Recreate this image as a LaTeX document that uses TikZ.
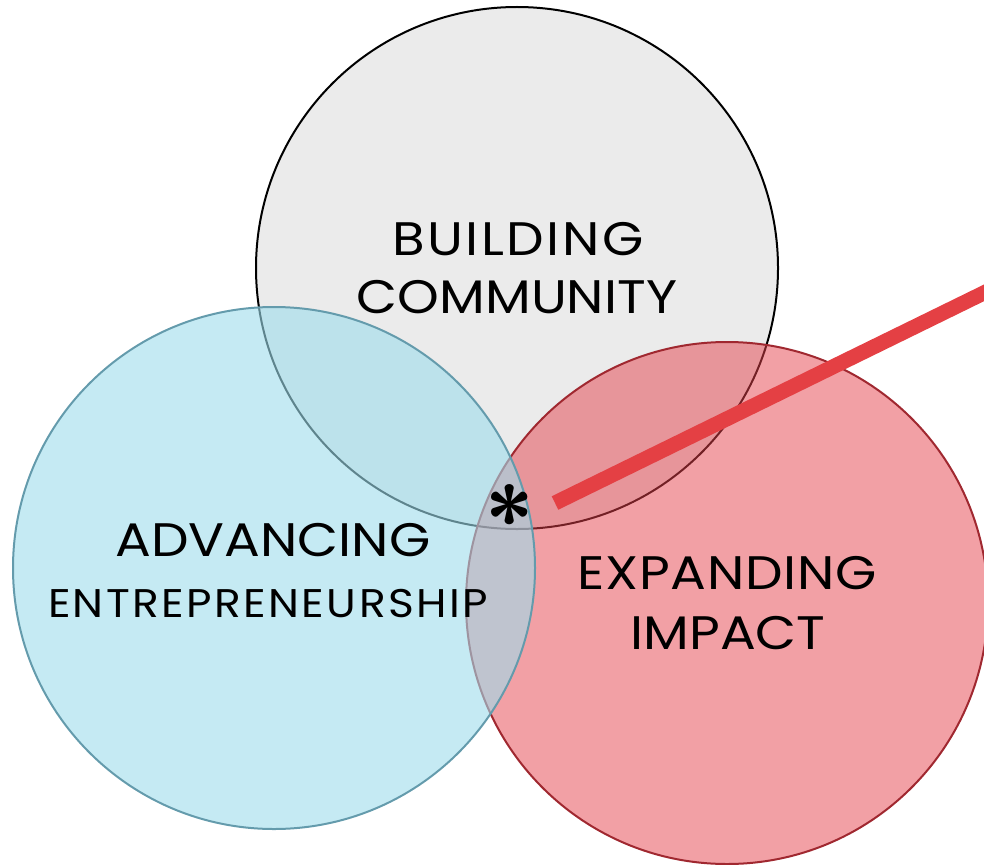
\documentclass[tikz,border=0pt]{standalone}
\usepackage{fontspec}
\setmainfont[FakeStretch=1.13]{Poppins}
\newfontfamily\lsfont[LetterSpace=6,FakeStretch=1.1]{Poppins}
\definecolor{greyfill}{RGB}{235,235,235}
\definecolor{bluefill}{RGB}{158,220,235}
\definecolor{blueline}{RGB}{100,155,172}
\definecolor{redfill}{RGB}{229,65,75}
\definecolor{redline}{RGB}{160,40,48}
\definecolor{barred}{RGB}{228,64,68}
\tikzset{
  venn/.style={circle, minimum size=522pt, inner sep=0pt, line width=2pt},
  bigtxt/.style={anchor=base, inner sep=0pt, font=\fontsize{47}{47}\selectfont},
  smalltxt/.style={anchor=base, inner sep=0pt, font=\lsfont\fontsize{40}{40}\selectfont},
}
\begin{document}
\begin{tikzpicture}[x=1pt,y=-1pt]
\useasboundingbox (0,0) rectangle (984,864);
\node[venn, fill=greyfill, draw=black] (top) at (517,268) {};
\node[venn, fill=redfill, fill opacity=0.5, draw=redline] (right) at (727,603) {};
\node[venn, fill=bluefill, fill opacity=0.6, draw=blueline] (left) at (274,568) {};
\node[bigtxt] (b1) at (518,255) {\addfontfeature{LetterSpace=5.5}BUILDING};
\node[bigtxt] (b2) at (517,313) {COMMUNITY};
\node[bigtxt] (a1) at (273,556) {ADVANCING};
\node[smalltxt] (a2) at (268,617) {ENTREPRENEURSHIP};
\node[bigtxt] (e1) at (727,589) {\addfontfeature{LetterSpace=1.5}EXPANDING};
\node[bigtxt] (e2) at (728,649) {IMPACT};
\node[inner sep=0pt, anchor=base, font=\sffamily\bfseries\fontsize{88}{88}\selectfont] (ast) at (510,550) {*};
\coordinate (barstart) at (555,503);
\coordinate (barend) at (1000,285);
\draw[barred, line width=15pt] (barstart) -- (barend);
\end{tikzpicture}
\end{document}
